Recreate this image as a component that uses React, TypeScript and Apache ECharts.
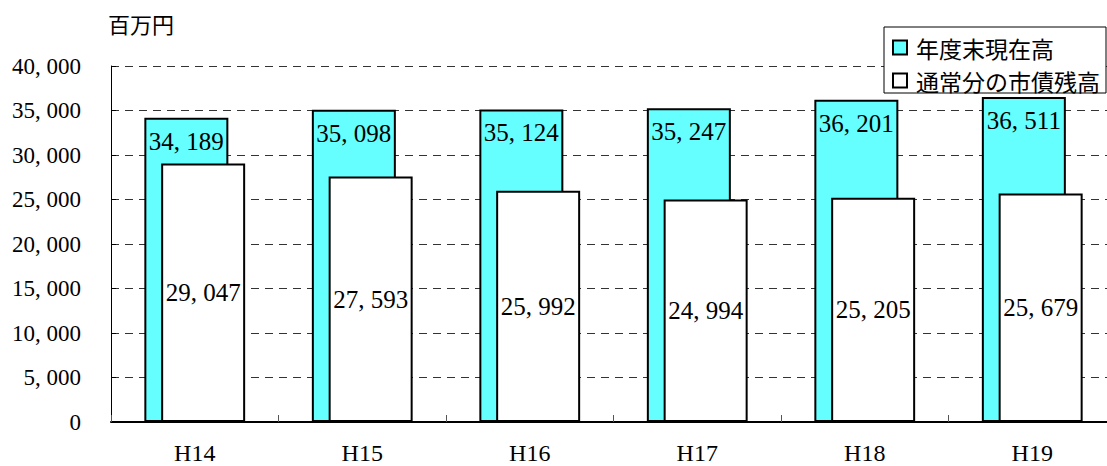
import React, { useEffect, useRef } from "react";
import * as echarts from "echarts";

const categories = ["H14", "H15", "H16", "H17", "H18", "H19"];
const totalOutstanding = [34189, 35098, 35124, 35247, 36201, 36511];
const regularBonds = [29047, 27593, 25992, 24994, 25205, 25679];
const seriesNames = ["年度末現在高", "通常分の市債残高"];
const unitLabel = "百万円";

const fmt = (v: number) => {
  if (v === 0) return "0";
  const s = String(Math.round(v));
  return s.replace(/\B(?=(\d{3})+(?!\d))/g, ", ");
};

const SERIF = "'Liberation Serif', 'Noto Sans CJK JP', serif";
const CJK = "'Noto Sans CJK JP', sans-serif";

export default function App() {
  const ref = useRef<HTMLDivElement>(null);
  useEffect(() => {
    if (!ref.current) return;
    const chart = echarts.init(ref.current, null, { renderer: "svg" });
    chart.setOption({
      animation: false,
      backgroundColor: "#fff",
      grid: { left: 111, top: 66, bottom: 44, right: -9, containLabel: false, outerBoundsMode: "none" },
      graphic: [
        {
          type: "text",
          left: 108,
          top: 12,
          style: { text: unitLabel, font: `22px ${CJK}`, fill: "#000" },
        },
      ],
      legend: {
        orient: "vertical",
        left: 884,
        top: 27,
        padding: [9, 6, 1, 8],
        itemGap: 10,
        itemWidth: 14,
        itemHeight: 14,
        backgroundColor: "#fff",
        borderColor: "#000",
        borderWidth: 1,
        borderRadius: 0,
        z: 10,
        textStyle: {
          fontFamily: CJK,
          fontSize: 23,
          lineHeight: 23,
          color: "#000",
          padding: [0, 0, 0, 4],
        },
        data: [
          { name: seriesNames[0], icon: "rect", itemStyle: { color: "#66ffff", borderColor: "#000", borderWidth: 2 } },
          { name: seriesNames[1], icon: "rect", itemStyle: { color: "#fff", borderColor: "#000", borderWidth: 2 } },
        ],
      },
      xAxis: {
        type: "category",
        data: categories,
        axisLine: { show: true, lineStyle: { color: "#000", width: 2 } },
        axisTick: { show: true, inside: true, length: 7, lineStyle: { color: "#555", width: 1 } },
        axisLabel: { fontFamily: SERIF, fontSize: 24, lineHeight: 24, color: "#000", margin: 19 },
      },
      yAxis: {
        type: "value",
        min: 0,
        max: 40000,
        interval: 5000,
        axisLine: { show: true, lineStyle: { color: "#000", width: 1 } },
        axisTick: { show: true, inside: true, length: 5, lineStyle: { color: "#000" } },
        axisLabel: { fontFamily: SERIF, fontSize: 23, color: "#000", margin: 30, formatter: (v: number) => fmt(v) },
        splitLine: { show: true, lineStyle: { color: "#333", type: [8, 6], width: 1 } },
      },
      series: [
        {
          name: seriesNames[0],
          type: "bar",
          data: totalOutstanding,
          barWidth: 84,
          barGap: "-80%",
          itemStyle: { color: "#66ffff", borderColor: "#000", borderWidth: 2 },
          label: {
            show: true,
            position: "insideTop",
            distance: 11,
            fontFamily: SERIF,
            fontSize: 25,
            color: "#000",
            formatter: (p: any) => fmt(p.value),
          },
        },
        {
          name: seriesNames[1],
          type: "bar",
          data: regularBonds,
          barWidth: 84,
          barGap: "-80%",
          itemStyle: { color: "#fff", borderColor: "#000", borderWidth: 2 },
          label: {
            show: true,
            position: "inside",
            fontFamily: SERIF,
            fontSize: 25,
            color: "#000",
            formatter: (p: any) => fmt(p.value),
          },
        },
      ],
    });
    return () => chart.dispose();
  }, []);
  return (
    <div
      ref={ref}
      style={{ position: "fixed", left: 0, top: 0, width: 1107, height: 466, overflow: "hidden" }}
    />
  );
}
